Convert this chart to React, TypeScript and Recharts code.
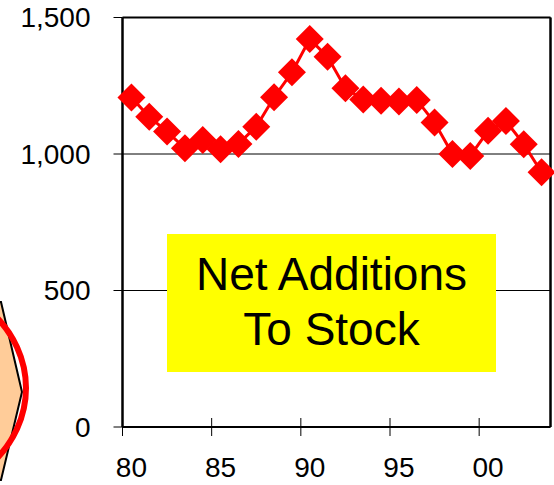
import { LineChart, Line, XAxis, YAxis, CartesianGrid, ReferenceLine } from "recharts";

// net additions to stock, by year
const years = [
  1980, 1981, 1982, 1983, 1984, 1985, 1986, 1987, 1988, 1989, 1990, 1991,
  1992, 1993, 1994, 1995, 1996, 1997, 1998, 1999, 2000, 2001, 2002, 2003,
];
const additions = [
  1207, 1136, 1082, 1021, 1051, 1017, 1037, 1100, 1208, 1299, 1421, 1356,
  1241, 1200, 1195, 1192, 1198, 1115, 1000, 993, 1085, 1121, 1036, 933,
];
const yTicks = [0, 500, 1000, 1500];
const xTicks = [1980, 1985, 1990, 1995, 2000];
const xLabels = ["80", "85", "90", "95", "00"];

const FONT = "'Liberation Sans', Arial, sans-serif";
const W = 554;
const H = 485;
const Y_AXIS_W = 122.5;
const RIGHT = 3.5;
const HALF_YEAR = (W - Y_AXIS_W - RIGHT) / (2004 - 1980) / 2;

// each value sits in the middle of its year
const data = years.map((yr, i) => ({ x: yr + 0.5, value: additions[i] }));

function Diamond(props: any) {
  const { cx, cy } = props;
  if (cx == null || cy == null) return null;
  const r = 14;
  return (
    <path
      d={`M${cx},${cy - r}L${cx + r},${cy}L${cx},${cy + r}L${cx - r},${cy}Z`}
      fill="#ff0000"
    />
  );
}

function XTick(props: any) {
  const { x, y, index } = props;
  return (
    <g>
      <line x1={x} x2={x} y1={y - 9} y2={y + 9} stroke="#000" strokeWidth={1} />
      <text
        x={x + HALF_YEAR}
        y={y + 50}
        textAnchor="middle"
        fontSize={28}
        fill="#000"
        fontFamily={FONT}
      >
        {xLabels[index]}
      </text>
    </g>
  );
}

export default function App() {
  return (
    <div style={{ position: "absolute", left: 0, top: 0, width: W, height: H, background: "#fff", overflow: "hidden" }}>
      <LineChart
        width={W}
        height={H}
        data={data}
        margin={{ top: 17.5, right: RIGHT, left: 0, bottom: 0 }}
      >
        <CartesianGrid vertical={false} stroke="#000" strokeWidth={1} />
        <XAxis
          dataKey="x"
          type="number"
          domain={[1980, 2004]}
          ticks={xTicks}
          interval={0}
          height={58}
          tickSize={0}
          tickMargin={0}
          tickLine={false}
          tick={<XTick />}
          axisLine={{ stroke: "#000", strokeWidth: 2 }}
        />
        <YAxis
          domain={[0, 1500]}
          ticks={yTicks}
          interval={0}
          width={Y_AXIS_W}
          tickSize={9}
          tickMargin={23}
          tickFormatter={(v: number) => v.toLocaleString("en-US")}
          tick={{ fontSize: 28, fill: "#000", fontFamily: FONT }}
          tickLine={{ stroke: "#000", strokeWidth: 1 }}
          axisLine={{ stroke: "#000", strokeWidth: 2.5 }}
        />
        {/* plot frame: top and right edges */}
        <ReferenceLine y={1500} stroke="#000" strokeWidth={2} />
        <ReferenceLine x={2004} stroke="#000" strokeWidth={2.5} />
        <Line
          dataKey="value"
          stroke="#ff0000"
          strokeWidth={3}
          dot={<Diamond />}
          activeDot={false}
          isAnimationActive={false}
        />
      </LineChart>

      {/* label box */}
      <div
        style={{
          position: "absolute",
          left: 167,
          top: 234,
          width: 329,
          height: 138,
          background: "#ffff00",
          boxSizing: "border-box",
          paddingTop: 13,
          textAlign: "center",
          fontFamily: FONT,
          fontSize: 46,
          lineHeight: "55px",
          color: "#000",
        }}
      >
        Net Additions
        <br />
        To Stock
      </div>

      {/* cut-off shape at the left edge */}
      <svg
        width={40}
        height={H}
        style={{ position: "absolute", left: 0, top: 0, pointerEvents: "none" }}
      >
        <polygon points="-40,300 1,302 22,392 1,480 -40,480" fill="#ffcc99" stroke="#000" strokeWidth={2} />
        <ellipse cx={-100} cy={388} rx={126} ry={110} fill="none" stroke="#ff0000" strokeWidth={6} />
      </svg>
    </div>
  );
}
